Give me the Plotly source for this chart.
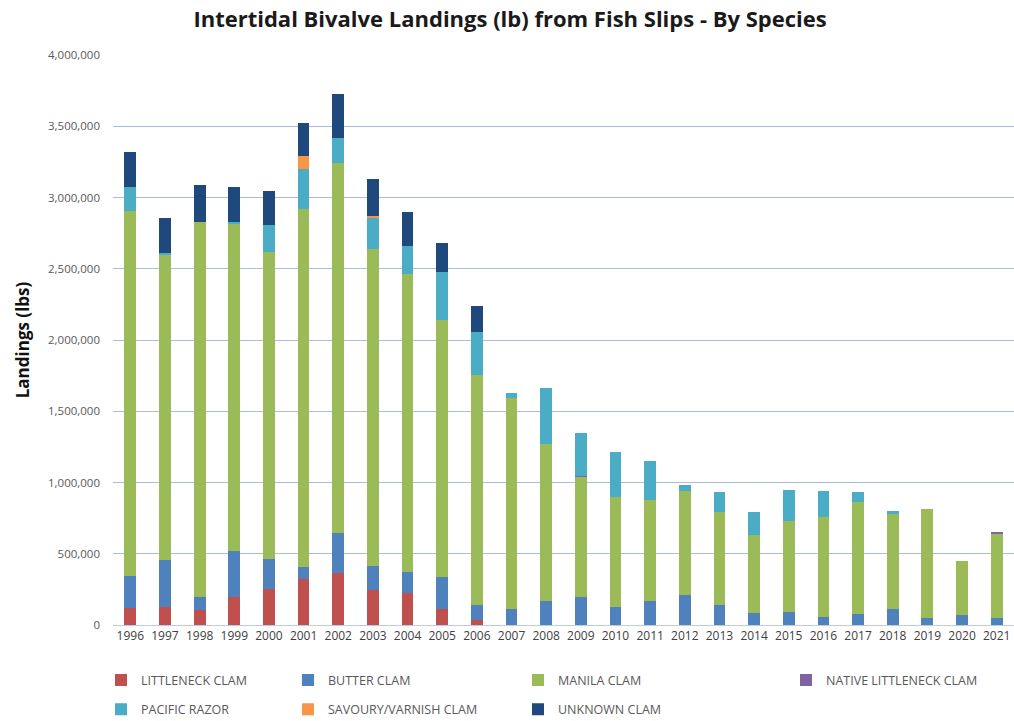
import plotly.graph_objects as go

years = [str(y) for y in range(1996, 2022)]

littleneck = [117000, 128000, 108000, 199000, 252000, 324000, 365000, 243000, 223000, 110000,
              38000, 0, 0, 0, 0, 0, 0, 0, 0, 0, 0, 0, 0, 0, 0, 0]
butter = [228000, 325000, 92000, 323000, 213000, 85000, 284000, 170000, 150000, 228000,
          105000, 110000, 168000, 197000, 124000, 171000, 213000, 143000, 84000, 94000,
          59000, 77000, 112000, 47000, 68000, 48000]
manila = [2557000, 2147000, 2630000, 2289000, 2156000, 2508000, 2592000, 2227000, 2087000, 1801000,
          1613000, 1486000, 1100000, 845000, 772000, 709000, 725000, 653000, 548000, 638000,
          697000, 784000, 667000, 765000, 382000, 595000]
native_littleneck = [0, 0, 0, 0, 0, 0, 0, 0, 0, 0,
                     0, 0, 0, 6000, 0, 0, 0, 0, 0, 0,
                     0, 0, 0, 0, 0, 6000]
pacific_razor = [172000, 10000, 0, 18000, 186000, 281000, 176000, 217000, 200000, 338000,
                 301000, 35000, 394000, 297000, 319000, 274000, 47000, 135000, 164000, 216000,
                 185000, 73000, 19000, 0, 0, 0]
savoury_varnish = [0, 0, 0, 0, 0, 91000, 0, 12000, 0, 0,
                   0, 0, 0, 0, 0, 0, 0, 0, 0, 0,
                   0, 0, 0, 0, 0, 0]
unknown = [243000, 247000, 255000, 245000, 238000, 233000, 308000, 263000, 240000, 205000,
           180000, 0, 0, 0, 0, 0, 0, 0, 0, 0,
           0, 0, 0, 0, 0, 0]

y_ticks = [0, 500000, 1000000, 1500000, 2000000, 2500000, 3000000, 3500000, 4000000]

FONT = "Open Sans, sans-serif"

# (name, values, colour, legend id) in stacking order, bottom to top
series = [
    ("LITTLENECK CLAM", littleneck, "#C0504D", "legend"),
    ("BUTTER CLAM", butter, "#4F81BD", "legend2"),
    ("MANILA CLAM", manila, "#9BBB59", "legend3"),
    ("NATIVE LITTLENECK CLAM", native_littleneck, "#8064A2", "legend4"),
    ("PACIFIC RAZOR", pacific_razor, "#4BACC6", "legend"),
    ("SAVOURY/VARNISH CLAM", savoury_varnish, "#F79646", "legend2"),
    ("UNKNOWN CLAM", unknown, "#1F497D", "legend3"),
]

fig = go.Figure()
for name, vals, color, leg in series:
    fig.add_trace(go.Bar(
        x=years, y=vals, name=name, marker_color=color, marker_line_width=0,
        legend=leg, legendgroup=name,
    ))

legend_common = dict(
    orientation="v", yanchor="top", y=-0.071, xanchor="left",
    font=dict(family=FONT, size=12.5, color="#595959"),
    bgcolor="rgba(0,0,0,0)", traceorder="grouped", tracegroupgap=10,
    itemwidth=30,
)

def px_x(px):
    # convert a pixel column to paper coordinates of the plot area
    return (px - 113) / (1014 - 113)

fig.update_layout(
    width=1014, height=721,
    margin=dict(l=113, r=0, t=55, b=96, autoexpand=False),
    paper_bgcolor="white", plot_bgcolor="white",
    barmode="stack", bargap=0.66,
    title=dict(text="<b>Intertidal Bivalve Landings (lb) from Fish Slips - By Species</b>",
               x=0.503, xanchor="center", y=0.973, yanchor="middle",
               font=dict(family=FONT, size=22, color="#1a1a1a")),
    font=dict(family=FONT, color="#595959"),
    legend=dict(legend_common, x=px_x(101)),
    legend2=dict(legend_common, x=px_x(288)),
    legend3=dict(legend_common, x=px_x(518)),
    legend4=dict(legend_common, x=px_x(786)),
    xaxis=dict(type="category", tickfont=dict(family=FONT, size=12, color="#404040"),
               showline=True, linecolor="#bfcbe0", linewidth=1, ticks="",
               showgrid=False),
    yaxis=dict(range=[0, 4000000], tickvals=y_ticks, tickformat=",d",
               tickfont=dict(family=FONT, size=11.5, color="#595959"),
               showgrid=True, gridcolor="#a9bcd8", gridwidth=1,
               zeroline=False, ticks="", ticklabelstandoff=12,
               title=dict(text="<b>Landings (lbs)</b>", standoff=14,
                          font=dict(family=FONT, size=17, color="#111111"))),
    showlegend=True,
)

fig.write_html("out.html")
